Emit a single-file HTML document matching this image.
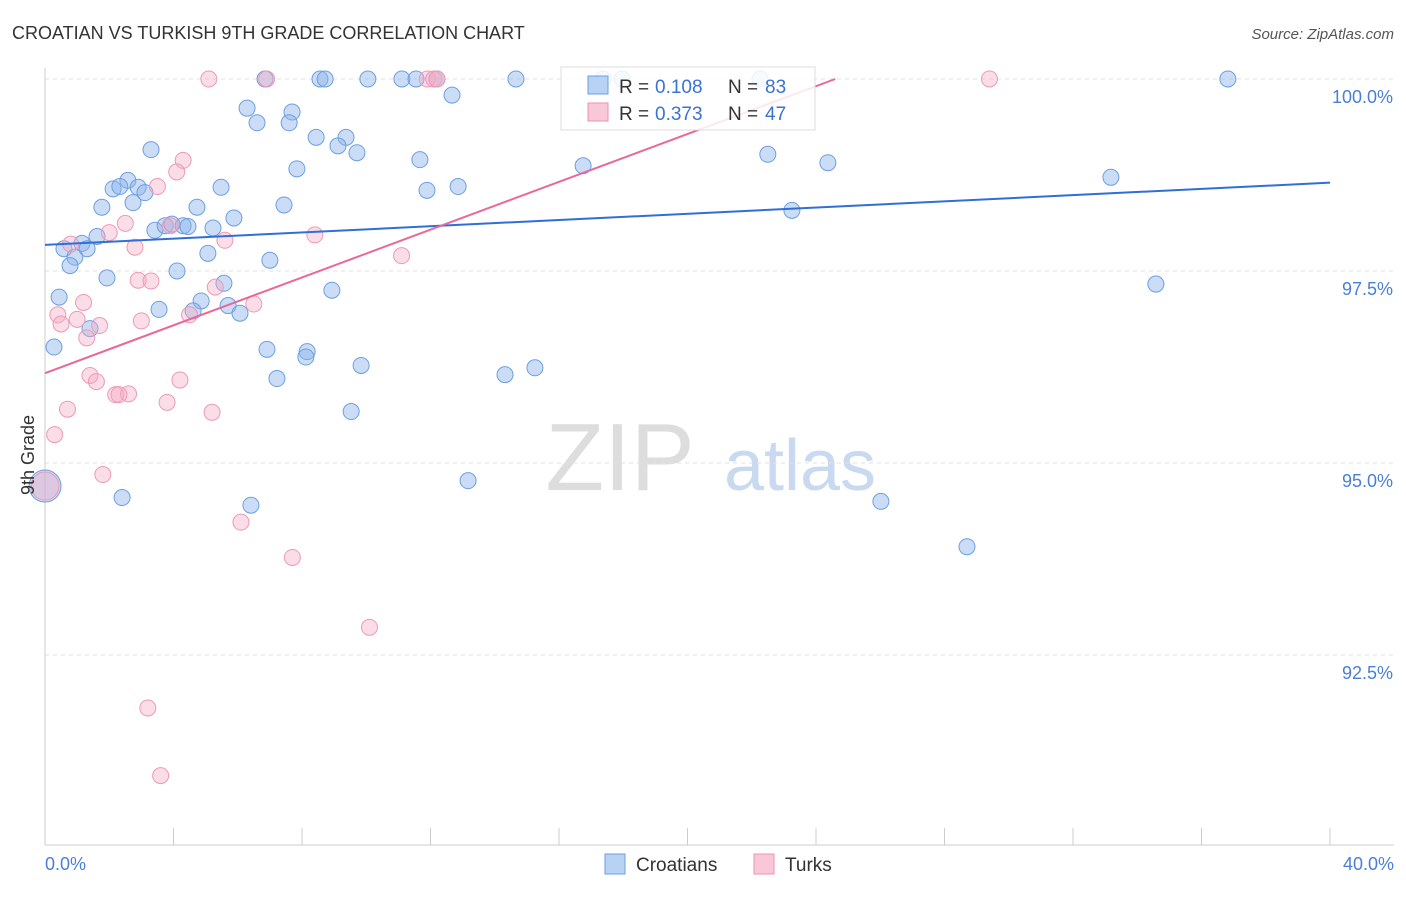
<!DOCTYPE html>
<html><head><meta charset="utf-8"><style>
body{margin:0;background:#fff;font-family:"Liberation Sans",sans-serif}
svg text{font-family:"Liberation Sans",sans-serif}
</style></head><body>
<svg id="c" width="1406" height="892">
<text x="12" y="39" font-size="18" fill="#333">CROATIAN VS TURKISH 9TH GRADE CORRELATION CHART</text>
<text x="1394" y="39" font-size="15" fill="#555" font-style="italic" text-anchor="end">Source: ZipAtlas.com</text>
<text x="620" y="490" font-size="96" fill="#ddd" font-family="Liberation Serif" text-anchor="middle">ZIP</text>
<text x="800" y="490" font-size="72" fill="#c9d9f0" text-anchor="middle">atlas</text>
<g id="grid"></g><g id="pts"></g><g id="lines"></g>
<text x="34" y="455" font-size="18" fill="#333" transform="rotate(-90 34 455)" text-anchor="middle">9th Grade</text>
<text x="45" y="870" font-size="18" fill="#4a7fd6">0.0%</text>
<text x="1394" y="870" font-size="18" fill="#4a7fd6" text-anchor="end">40.0%</text>
<g>
<rect x="561" y="67" width="254" height="63" fill="#fff" fill-opacity="0.85" stroke="#ddd"/>
<rect x="588" y="76" width="20" height="18" fill="#b8d2f5" stroke="#6d9fe0"/>
<text x="619" y="93" font-size="19" fill="#333">R = </text><text x="655" y="93" font-size="19" fill="#3a72d6">0.108</text>
<text x="728" y="93" font-size="19" fill="#333">N = </text><text x="765" y="93" font-size="19" fill="#3a72d6">83</text>
<rect x="588" y="103" width="20" height="18" fill="#f9c8d8" stroke="#ec90b0"/>
<text x="619" y="120" font-size="19" fill="#333">R = </text><text x="655" y="120" font-size="19" fill="#3a72d6">0.373</text>
<text x="728" y="120" font-size="19" fill="#333">N = </text><text x="765" y="120" font-size="19" fill="#3a72d6">47</text>
</g>
<g>
<rect x="605" y="854" width="20" height="20" fill="#b8d2f5" stroke="#6d9fe0"/><text x="636" y="871" font-size="19" fill="#333">Croatians</text>
<rect x="754" y="854" width="20" height="20" fill="#f9c8d8" stroke="#ec90b0"/><text x="785" y="871" font-size="19" fill="#333">Turks</text>
</g>
</svg>
<script>
const yTicks=[100,97.5,95,92.5];
const yTickLabels=["100.0%","97.5%","95.0%","92.5%"];
const croX=[6.85,8.56,8.72,10.05,11.11,11.55,12.2,14.66,17.96,22.26,36.82,17.37,12.67,6.29,7.69,6.6,7.6,8.44,9.37,9.12,9.71,3.3,7.84,11.67,16.75,22.5,24.37,33.18,2.58,2.12,2.33,2.9,3.11,5.48,11.89,12.86,1.77,2.74,4.73,7.44,5.88,23.25,3.42,3.74,3.95,4.3,4.45,5.23,1.62,1.15,0.59,1.31,0.93,0.78,5.07,7.0,4.11,1.93,5.57,8.93,34.58,0.44,4.86,3.55,4.61,5.7,6.07,1.4,0.28,6.91,8.16,8.12,9.84,7.22,14.32,15.25,9.53,0.0,2.4,6.41,13.17,26.02,28.7];
const croY=[100,100,100,100,100,100,100,100,100,100,100,100,99.79,99.62,99.57,99.43,99.43,99.24,99.24,99.13,99.04,99.08,98.83,98.95,98.87,99.02,98.91,98.72,98.68,98.57,98.6,98.59,98.52,98.59,98.55,98.6,98.33,98.39,98.33,98.36,98.19,98.29,98.03,98.09,98.11,98.09,98.08,98.06,97.95,97.86,97.79,97.79,97.68,97.57,97.73,97.64,97.5,97.41,97.34,97.25,97.33,97.16,97.11,97.0,96.98,97.05,96.95,96.75,96.51,96.48,96.45,96.38,96.27,96.1,96.15,96.24,95.67,94.7,94.55,94.45,94.77,94.5,93.91];
const turX=[5.1,6.9,11.9,12.1,12.2,29.4,4.3,4.1,3.5,2.5,2.0,3.9,5.6,8.4,11.1,0.8,2.8,2.9,3.3,5.3,6.5,1.2,0.4,0.5,1.0,1.7,1.3,3.0,4.5,1.4,1.6,4.2,2.2,2.6,3.8,0.7,5.2,0.3,1.8,6.1,7.7,10.1,3.2,3.6,0.0,2.3];
const turY=[100,100,100,100,100,100,98.94,98.79,98.6,98.12,98.0,98.09,97.9,97.97,97.7,97.85,97.81,97.38,97.37,97.29,97.07,97.09,96.93,96.81,96.87,96.79,96.63,96.85,96.93,96.14,96.06,96.08,95.89,95.9,95.79,95.7,95.66,95.37,94.85,94.23,93.77,92.86,91.81,90.93,94.7,95.89];
const bigCro=[77],bigTur=[44];
const croLine=[97.84,98.65],turLine=[96.17,100];
const X=v=>45+v/40*1285, Y=v=>79+(100-v)/2.5*192;
const NS="http://www.w3.org/2000/svg";
function mk(t,a,p){const e=document.createElementNS(NS,t);for(const k in a)e.setAttribute(k,a[k]);p.appendChild(e);return e;}
const g=document.getElementById('grid');
yTicks.forEach((v,i)=>{
 const l=mk('line',{x1:45,x2:1394,y1:Y(v),y2:Y(v),stroke:'#e2e2e2','stroke-dasharray':'4,4'},g);
 
 
 const t=mk('text',{x:1393,y:Y(v)+24,'font-size':18,fill:'#4a7fd6','text-anchor':'end'},g);
 t.textContent=yTickLabels[i];
 
 
});
mk('line',{x1:45,x2:45,y1:68,y2:845,stroke:'#ccc'},g);
mk('line',{x1:45,x2:1394,y1:845,y2:845,stroke:'#ccc'},g);
for(let i=0;i<=10;i++){const l=mk('line',{x1:X(i*4),x2:X(i*4),y1:828,y2:845,stroke:'#ccc'},g);
 
 }
const p=document.getElementById('pts');
croX.forEach((x,i)=>{const c=mk('circle',{cx:X(x),cy:Y(croY[i]),r:bigCro.includes(i)?16:8,fill:'rgba(140,180,235,0.45)',stroke:'#6d9fe0','stroke-width':1},p);
 
 });
turX.forEach((x,i)=>{const c=mk('circle',{cx:X(x),cy:Y(turY[i]),r:bigTur.includes(i)?14:8,fill:'rgba(245,170,195,0.4)',stroke:'#ec9ab5','stroke-width':1},p);
 
 });
const L=document.getElementById('lines');
const a=mk('line',{x1:X(0),y1:Y(croLine[0]),x2:X(40),y2:Y(croLine[1]),stroke:'#2f6fd6','stroke-width':2},L);


const b=mk('line',{x1:X(0),y1:Y(turLine[0]),x2:X(24.6),y2:Y(turLine[1]),stroke:'#e8689a','stroke-width':2},L);


</script>
</body></html>
